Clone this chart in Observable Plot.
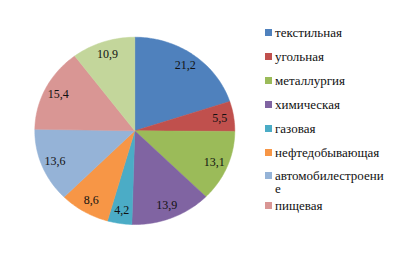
<!DOCTYPE html>
<html><head><meta charset="utf-8">
<script src="https://cdn.jsdelivr.net/npm/d3@7"></script>
<script src="https://cdn.jsdelivr.net/npm/@observablehq/plot@0.6"></script>
<style>
html,body{margin:0;padding:0;background:#fff;}
#wrap{position:relative;width:393px;height:259px;overflow:hidden;}
#legend{position:absolute;left:265px;top:25px;font-family:"Times New Roman","Liberation Serif","DejaVu Serif",Times,serif;font-size:13px;color:#111;}
.item{display:flex;align-items:flex-start;margin-bottom:9px;line-height:15px;}
.sw{width:7px;height:7px;margin-top:4px;margin-right:3px;flex:none;}
.lt{width:109px;overflow-wrap:anywhere;word-break:break-all;}
.item.wrapped{margin-bottom:3px;line-height:13px;}
.item.wrapped .sw{margin-top:3px;}
</style>
</head><body><div id="wrap"><div id="chart"></div><div id="legend"></div></div>
<script>
const categories = ["текстильная","угольная","металлургия","химическая","газовая","нефтедобывающая","автомобилестроение","пищевая","лёгкая"];
const values = [21.2, 5.5, 13.1, 13.9, 4.2, 8.6, 13.6, 15.4, 10.9];
const colors = ["#4F81BD","#C0504D","#9BBB59","#8064A2","#4BACC6","#F79646","#95B3D7","#D99694","#C3D69B"];
const legendCount = 8;

const total = d3.sum(values);
let cum = 0;
const slices = values.map((v, i) => {
  const a0 = cum / total * 2 * Math.PI;
  cum += v;
  const a1 = cum / total * 2 * Math.PI;
  const pts = [{x: 0, y: 0}];
  const n = Math.max(2, Math.ceil((a1 - a0) / 0.02));
  for (let k = 0; k <= n; k++) {
    const a = a0 + (a1 - a0) * k / n;
    pts.push({x: Math.sin(a), y: -Math.cos(a)});
  }
  pts.push({x: 0, y: 0});
  const am = (a0 + a1) / 2;
  return {name: categories[i], value: v, color: colors[i], pts, lx: 0.86 * Math.sin(am), ly: -0.86 * Math.cos(am)};
});

const marks = slices.map(s => Plot.line(s.pts, {x: "x", y: "y", fill: s.color, stroke: s.color, strokeWidth: 0.5, curve: "linear"}));
marks.push(Plot.text(slices, {x: "lx", y: "ly", text: d => d.value.toFixed(1).replace(".", ","), fill: "#111",
  fontFamily: "Times New Roman, Liberation Serif, DejaVu Serif, serif", fontSize: 12}));

const plot = Plot.plot({
  width: 393, height: 259,
  margin: 0,
  x: {domain: [-1, 1], range: [34.3, 234.3], axis: null},
  y: {domain: [-1, 1], range: [36.7, 224], axis: null},
  marks
});
document.getElementById("chart").appendChild(plot);

const lg = document.getElementById("legend");
slices.slice(0, legendCount).forEach(s => {
  const it = document.createElement("div"); it.className = "item";
  const sw = document.createElement("div"); sw.className = "sw"; sw.style.background = s.color;
  const t = document.createElement("div"); t.className = "lt"; t.textContent = s.name;
  it.appendChild(sw); it.appendChild(t); lg.appendChild(it);
  if (t.getBoundingClientRect().height > 20) it.classList.add("wrapped");
});
</script></body></html>
